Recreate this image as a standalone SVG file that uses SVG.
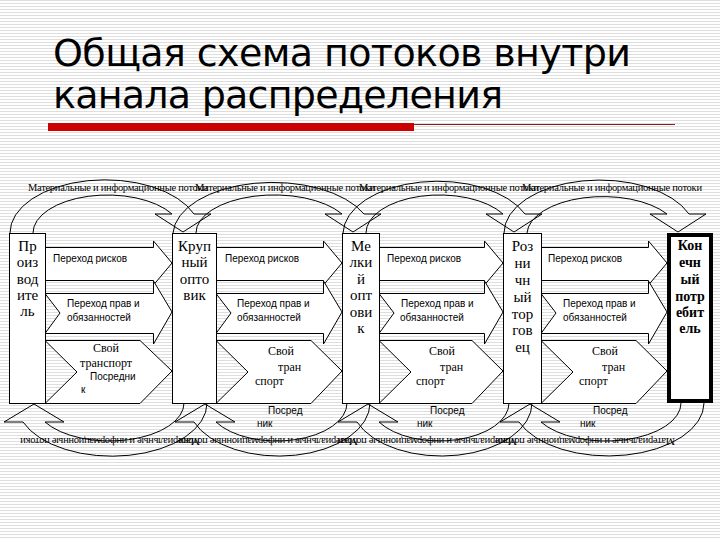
<svg xmlns="http://www.w3.org/2000/svg" width="720" height="540" viewBox="0 0 720 540">
<defs>
<pattern id="stripes" width="8" height="3" patternUnits="userSpaceOnUse">
<rect width="8" height="3" fill="#ffffff"/>
<rect width="8" height="1" fill="#dedede"/>
</pattern>
<style>
.box{fill:#fff;stroke:#000;stroke-width:1}
.box5{fill:#fff;stroke:#000;stroke-width:4}
.blk{fill:#fff;stroke:#000;stroke-width:1;stroke-linejoin:miter}
.crv{fill:none;stroke:#000;stroke-width:1}
.bt{font-family:"Liberation Serif",serif;font-size:15px;text-anchor:middle;fill:#000}
.bb{font-family:"Liberation Serif",serif;font-size:14px;font-weight:bold;text-anchor:middle;fill:#000}
.ss{font-family:"Liberation Sans",Arial,sans-serif;font-size:10px;fill:#000}
.sr{font-family:"Liberation Serif",serif;font-size:12px;fill:#000}
.fl{font-family:"Liberation Serif",serif;font-size:10.5px;fill:#000}
.title{font-family:"DejaVu Sans","Liberation Sans",sans-serif;font-size:38px;fill:#000}
</style>
</defs>
<rect width="720" height="540" fill="url(#stripes)"/>

<g id="title">
<text class="title" x="53" y="66" textLength="578">Общая схема потоков внутри</text>
<text class="title" x="53" y="108" textLength="450">канала распределения</text>
<rect x="48" y="123" width="366" height="8" fill="#cc0000"/>
<line x1="414" y1="124.5" x2="675" y2="124.5" stroke="#8b1a1a" stroke-width="1"/>
</g>

<g id="connectors">
<!-- top curved arrows (forward flows) -->
<path class="crv" d="M10,233 A95.1,53 0 0 1 194,214 L211,214 L183,232 L155,214 L172,214 A74.5,38 0 0 0 33,233"/>
<path class="crv" d="M173,233 A99.8,53 0 0 1 364,214 L381,214 L353,232 L325,214 L342,214 A78.2,38 0 0 0 196,233"/>
<path class="crv" d="M343,233 A94.6,53 0 0 1 525,214 L542,214 L514,232 L486,214 L503,214 A73.4,38 0 0 0 366,233"/>
<path class="crv" d="M504,233 A95.7,53 0 0 1 689,214 L706,214 L678,232 L650,214 L667,214 A76.1,38 0 0 0 527,233"/>
<!-- bottom curved arrows (return flows) -->
<path class="crv" d="M207,403 A95.1,53 0 0 1 23,422 L4,422 L34,404 L64,422 L45,422 A74.5,38 0 0 0 184,403"/>
<path class="crv" d="M370,403 A91,53 0 0 1 194,422 L175,422 L205,404 L235,422 L216,422 A70.2,38 0 0 0 347,403"/>
<path class="crv" d="M532,403 A90.5,53 0 0 1 357,422 L338,422 L368,404 L398,422 L379,422 A69.7,38 0 0 0 509,403"/>
<path class="crv" d="M704,403 A95.7,53 0 0 1 519,422 L500,422 L530,404 L560,422 L541,422 A75,38 0 0 0 681,403"/>

<!-- top labels -->
<text class="fl" x="28" y="191" textLength="180">Материальные и информационные потоки</text>
<text class="fl" x="195" y="191" textLength="180">Материальные и информационные потоки</text>
<text class="fl" x="359" y="191" textLength="180">Материальные и информационные потоки</text>
<text class="fl" x="522" y="191" textLength="180">Материальные и информационные потоки</text>
<!-- bottom labels (upside down) -->
<text class="fl" x="20" y="444" textLength="180" transform="rotate(180 110 441)">Материальные и информационные потоки</text>
<text class="fl" x="178" y="444" textLength="180" transform="rotate(180 268 441)">Материальные и информационные потоки</text>
<text class="fl" x="337" y="444" textLength="180" transform="rotate(180 427 441)">Материальные и информационные потоки</text>
<text class="fl" x="495" y="444" textLength="180" transform="rotate(180 585 441)">Материальные и информационные потоки</text>

<!-- segment 1 -->
<g id="seg1">
<polygon class="blk" points="45,247.5 153.5,247.5 153.5,241 172,263 153.5,285 153.5,280.5 45,280.5"/>
<polygon class="blk" points="45,293.5 153.5,293.5 153.5,281 172,312 153.5,344 153.5,333.5 45,333.5 60,313"/>
<polygon class="blk" points="45,340.5 140,340.5 172,371 140,403.5 45,403.5 77,372"/>
<text class="ss" x="53" y="262">Переход рисков</text>
<text class="ss" x="67" y="307">Переход прав и</text>
<text class="ss" x="67" y="321">обязанностей</text>
<text class="sr" x="93" y="352">Свой</text>
<text class="sr" x="80" y="367">транспорт</text>
<text class="ss" x="90" y="380">Посредни</text>
<text class="ss" x="81" y="393">к</text>
</g>
<!-- segment 2 -->
<g id="seg2">
<polygon class="blk" points="216,247.5 323.5,247.5 323.5,241 342,263 323.5,285 323.5,280.5 216,280.5"/>
<polygon class="blk" points="216,293.5 323.5,293.5 323.5,281 342,312 323.5,344 323.5,333.5 216,333.5 231,313"/>
<polygon class="blk" points="216,340.5 311,340.5 342,371 311,403.5 216,403.5 248,372"/>
<text class="ss" x="225" y="262">Переход рисков</text>
<text class="ss" x="237" y="307">Переход прав и</text>
<text class="ss" x="237" y="321">обязанностей</text>
<text class="sr" x="268" y="355">Свой</text>
<text class="sr" x="278" y="371">тран</text>
<text class="sr" x="255" y="385">спорт</text>
<text class="ss" x="268" y="414">Посред</text>
<text class="ss" x="257" y="427">ник</text>
</g>
<!-- segment 3 -->
<g id="seg3">
<polygon class="blk" points="379,247.5 484.5,247.5 484.5,241 503,263 484.5,285 484.5,280.5 379,280.5"/>
<polygon class="blk" points="379,293.5 484.5,293.5 484.5,281 503,312 484.5,344 484.5,333.5 379,333.5 394,313"/>
<polygon class="blk" points="379,340.5 472,340.5 503,371 472,403.5 379,403.5 411,372"/>
<text class="ss" x="387" y="262">Переход рисков</text>
<text class="ss" x="401" y="307">Переход прав и</text>
<text class="ss" x="400" y="321">обязанностей</text>
<text class="sr" x="429" y="355">Свой</text>
<text class="sr" x="440" y="371">тран</text>
<text class="sr" x="416" y="385">спорт</text>
<text class="ss" x="430" y="414">Посред</text>
<text class="ss" x="417" y="427">ник</text>
</g>
<!-- segment 4 -->
<g id="seg4">
<polygon class="blk" points="541,247.5 648.5,247.5 648.5,241 667,263 648.5,285 648.5,280.5 541,280.5"/>
<polygon class="blk" points="541,293.5 648.5,293.5 648.5,281 667,312 648.5,344 648.5,333.5 541,333.5 556,313"/>
<polygon class="blk" points="541,340.5 636,340.5 667,371 636,403.5 541,403.5 573,372"/>
<text class="ss" x="548" y="262">Переход рисков</text>
<text class="ss" x="563" y="307">Переход прав и</text>
<text class="ss" x="563" y="321">обязанностей</text>
<text class="sr" x="592" y="355">Свой</text>
<text class="sr" x="602" y="371">тран</text>
<text class="sr" x="579" y="385">спорт</text>
<text class="ss" x="593" y="414">Посред</text>
<text class="ss" x="580" y="427">ник</text>
</g>
</g>

<g id="producer">
<rect class="box" x="9.5" y="233.5" width="36" height="170"/>
<text class="bt" x="27.5" y="251">Пр</text>
<text class="bt" x="27.5" y="267">оиз</text>
<text class="bt" x="27.5" y="284">вод</text>
<text class="bt" x="27.5" y="300">ите</text>
<text class="bt" x="27.5" y="316">ль</text>
</g>
<g id="wholesaler">
<rect class="box" x="172.5" y="233.5" width="44" height="170"/>
<text class="bt" x="194.5" y="251">Круп</text>
<text class="bt" x="194.5" y="267">ный</text>
<text class="bt" x="194.5" y="284">опто</text>
<text class="bt" x="194.5" y="300">вик</text>
</g>
<g id="small-wholesaler">
<rect class="box" x="342.5" y="233.5" width="37" height="170"/>
<text class="bt" x="361" y="251">Ме</text>
<text class="bt" x="361" y="267">лки</text>
<text class="bt" x="361" y="284">й</text>
<text class="bt" x="361" y="300">опт</text>
<text class="bt" x="361" y="317">ови</text>
<text class="bt" x="361" y="333">к</text>
</g>
<g id="retailer">
<rect class="box" x="503.5" y="233.5" width="38" height="170"/>
<text class="bt" x="522.5" y="251">Роз</text>
<text class="bt" x="522.5" y="268">ни</text>
<text class="bt" x="522.5" y="285">чн</text>
<text class="bt" x="522.5" y="302">ый</text>
<text class="bt" x="522.5" y="319">тор</text>
<text class="bt" x="522.5" y="335">гов</text>
<text class="bt" x="522.5" y="352">ец</text>
</g>
<g id="consumer">
<rect class="box5" x="669" y="235" width="42" height="166"/>
<text class="bb" x="690" y="250">Кон</text>
<text class="bb" x="690" y="267">ечн</text>
<text class="bb" x="690" y="284">ый</text>
<text class="bb" x="690" y="301">потр</text>
<text class="bb" x="690" y="317">ебит</text>
<text class="bb" x="690" y="333">ель</text>
</g>
</svg>
